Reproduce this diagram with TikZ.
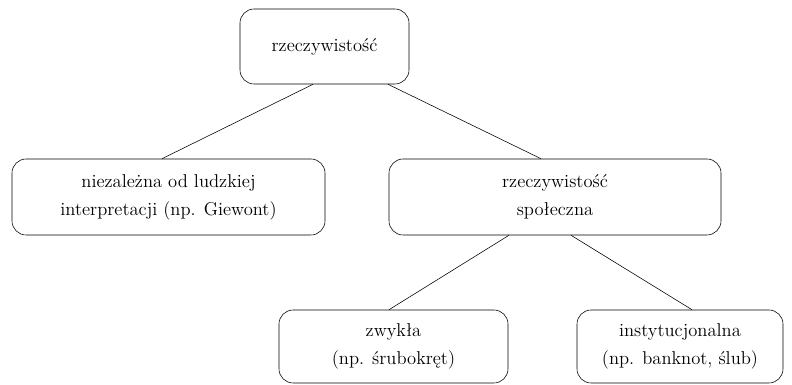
\documentclass[tikz,border=0pt]{standalone}
\usepackage{fontspec}
\begin{document}
\begin{tikzpicture}[x=0.025cm,y=-0.025cm,
  box/.style={draw,rounded corners=10pt,align=center,inner sep=0pt,
    font=\fontsize{13.2}{20}\selectfont}]
\useasboundingbox (0,0) rectangle (792,385);
\node[box,minimum width=169*0.025cm,minimum height=75*0.025cm] (real) at (324.5,46.5) {rzeczywisto\'s\'c};
\node[box,minimum width=313*0.025cm,minimum height=76*0.025cm] (indep) at (168.5,197) {niezale\.zna od ludzkiej\\interpretacji (np. Giewont)};
\node[box,minimum width=332*0.025cm,minimum height=76*0.025cm] (social) at (555,197) {rzeczywisto\'s\'c\\spo\l{}eczna};
\node[box,minimum width=229*0.025cm,minimum height=73*0.025cm] (plain) at (393.5,346.5) {zwyk\l{}a\\(np. \'srubokr\k{e}t)};
\node[box,minimum width=206*0.025cm,minimum height=73*0.025cm] (inst) at (680,346.5) {instytucjonalna\\(np. banknot, \'slub)};
\draw ([xshift=-11.5*0.025cm]real.south) -- ([xshift=-6.5*0.025cm]indep.north);
\draw ([xshift=63.5*0.025cm]real.south) -- ([xshift=-14*0.025cm]social.north);
\draw ([xshift=-46*0.025cm]social.south) -- ([xshift=-4.5*0.025cm]plain.north);
\draw ([xshift=16*0.025cm]social.south) -- ([xshift=12*0.025cm]inst.north);
\end{tikzpicture}
\end{document}
